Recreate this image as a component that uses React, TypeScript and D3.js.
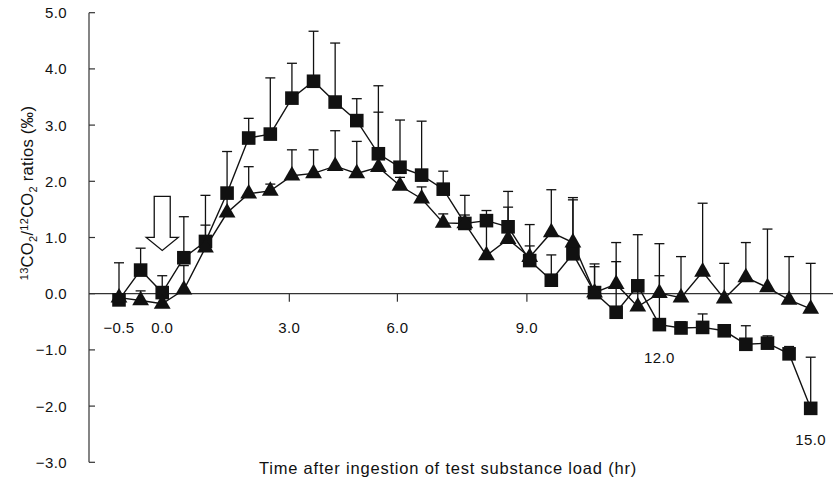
import * as d3 from "d3";

const width = 833;
const height = 488;

// time point index (categorical axis, 33 samples)
const squareValues = [
  -0.11, 0.42, 0.02, 0.64, 0.93, 1.79, 2.77, 2.84, 3.48, 3.78, 3.41, 3.08, 2.49,
  2.25, 2.11, 1.86, 1.25, 1.3, 1.19, 0.59, 0.24, 0.71, 0.02, -0.33, 0.14, -0.55,
  -0.61, -0.6, -0.66, -0.9, -0.88, -1.07, -2.04,
];
const squareUpper = [
  0.55, 0.81, 0.32, 1.37, 1.75, 2.53, 3.12, 3.84, 4.1, 4.67, 4.46, 3.47, 3.7,
  3.09, 3.07, 2.18, 1.75, 1.48, 1.82, 1.23, 0.69, 1.67, 0.53, 0.57, 1.05, 0.32,
  -0.5, -0.36, -0.58, -0.57, -0.75, -0.94, -1.13,
];
const triangleValues = [
  -0.07, -0.12, -0.18, 0.07, 0.82, 1.44, 1.78, 1.83, 2.1, 2.14, 2.27, 2.14, 2.25,
  1.92, 1.69, 1.26, 1.25, 0.68, 0.97, 0.65, 1.09, 0.91, 0.02, 0.17, -0.23, 0.01,
  -0.07, 0.39, -0.09, 0.29, 0.11, -0.11, -0.27,
];
const triangleUpper = [
  0.0, 0.05, -0.05, 0.5, 1.22, 1.75, 2.26, 1.95, 2.56, 2.56, 2.9, 2.71, 3.23,
  2.07, 1.9, 1.42, 1.4, 1.3, 1.54, 0.85, 1.85, 1.71, 0.48, 0.91, 0.1, 0.89, 0.66,
  1.61, 0.54, 0.91, 1.15, 0.66, 0.54,
];

// x labels: [label, category position]
const xLabels: [string, number][] = [
  ["\u22120.5", 0],
  ["0.0", 2],
  ["3.0", 7.88],
  ["6.0", 12.88],
  ["9.0", 18.87],
];
const xTickPos = [7.88, 12.88, 18.87];
// labels placed under the last points
const lowLabels: [string, number, number][] = [
  ["12.0", 25, -1.15],
  ["15.0", 32, -2.6],
];
const yTicks = [5, 4, 3, 2, 1, 0, -1, -2, -3];
// dosing arrow at 0.0 hr, from/to in y units
const arrow = { index: 2, top: 1.73, tip: 0.77 };

const font = "'Liberation Sans', Arial, sans-serif";

export default function App() {
  const x = d3.scaleLinear().domain([0, 32]).range([119, 810.7]);
  const y = d3.scaleLinear().domain([-3, 5]).range([462.3, 12.7]);
  const axisX = 89;

  const lineGen = d3
    .line<number>()
    .x((_, i) => x(i))
    .y((d) => y(d));

  const square = d3.symbol(d3.symbolSquare, 185)();
  const triangle = d3.symbol(d3.symbolTriangle, 122)();

  const fmt = (v: number) => (v < 0 ? "\u2212" + Math.abs(v).toFixed(1) : v.toFixed(1));

  const ax = x(arrow.index);
  const at = y(arrow.top);
  const tip = y(arrow.tip);
  const headY = tip - 13;
  const arrowPath = `M${ax - 8},${at}L${ax + 8},${at}L${ax + 8},${headY}L${ax + 16},${headY}L${ax},${tip}L${ax - 16},${headY}L${ax - 8},${headY}Z`;

  const errBars = (vals: number[], ups: number[], key: string) =>
    vals.map((v, i) =>
      ups[i] > v ? (
        <g key={`${key}-${i}`} stroke="#111" strokeWidth={1.3}>
          <line x1={x(i)} x2={x(i)} y1={y(v)} y2={y(ups[i])} />
          <line x1={x(i) - 5} x2={x(i) + 5} y1={y(ups[i])} y2={y(ups[i])} />
        </g>
      ) : null
    );

  return (
    <svg
      width={width}
      height={height}
      style={{ position: "absolute", left: 0, top: 0, background: "#fff" }}
      fontFamily={font}
    >
      {/* y axis */}
      <line x1={axisX} x2={axisX} y1={y(5)} y2={y(-3)} stroke="#333" strokeWidth={1.2} />
      {yTicks.map((t) => (
        <g key={t}>
          <line x1={axisX} x2={axisX + 6} y1={y(t)} y2={y(t)} stroke="#333" strokeWidth={1.2} />
          <text x={67} y={y(t) + 5.5} textAnchor="end" fontSize={15} letterSpacing={0.4} fill="#111">
            {fmt(t)}
          </text>
        </g>
      ))}
      {/* zero line as x axis */}
      <line x1={axisX} x2={width} y1={y(0)} y2={y(0)} stroke="#333" strokeWidth={1.2} />
      {xTickPos.map((p) => (
        <line key={p} x1={x(p)} x2={x(p)} y1={y(0)} y2={y(0) + 8} stroke="#333" strokeWidth={1.2} />
      ))}
      {xLabels.map(([l, p]) => (
        <text key={l} x={x(p)} y={333} textAnchor="middle" fontSize={15} letterSpacing={0.4} fill="#111">
          {l}
        </text>
      ))}
      {lowLabels.map(([l, p, v]) => (
        <text key={l} x={x(p)} y={y(v) + 5} textAnchor="middle" fontSize={15} letterSpacing={0.4} fill="#111">
          {l}
        </text>
      ))}

      {/* error bars */}
      {errBars(squareValues, squareUpper, "s")}
      {errBars(triangleValues, triangleUpper, "t")}

      {/* lines */}
      <path d={lineGen(squareValues) ?? ""} fill="none" stroke="#111" strokeWidth={1.4} />
      <path d={lineGen(triangleValues) ?? ""} fill="none" stroke="#111" strokeWidth={1.4} />

      {squareValues.map((v, i) => (
        <path key={`sq${i}`} d={square ?? ""} transform={`translate(${x(i)},${y(v)})`} fill="#111" />
      ))}
      {triangleValues.map((v, i) => (
        <path key={`tr${i}`} d={triangle ?? ""} transform={`translate(${x(i)},${y(v)})`} fill="#111" />
      ))}

      {/* dosing arrow */}
      <path d={arrowPath} fill="#fff" stroke="#111" strokeWidth={1.3} />

      {/* titles */}
      <text x={448} y={474} textAnchor="middle" fontSize={16.5} letterSpacing={0.8} fill="#111">
        Time after ingestion of test substance load (hr)
      </text>
      <text
        transform={`translate(33,${193}) rotate(-90)`}
        textAnchor="middle"
        fontSize={16.5}
        letterSpacing={0.3}
        fill="#111"
      >
        <tspan fontSize={11} dy={-5}>13</tspan>
        <tspan dy={5}>CO</tspan>
        <tspan fontSize={11} dy={4}>2</tspan>
        <tspan dy={-4}>/</tspan>
        <tspan fontSize={11} dy={-5}>12</tspan>
        <tspan dy={5}>CO</tspan>
        <tspan fontSize={11} dy={4}>2</tspan>
        <tspan dy={-4}> ratios (‰)</tspan>
      </text>
    </svg>
  );
}
